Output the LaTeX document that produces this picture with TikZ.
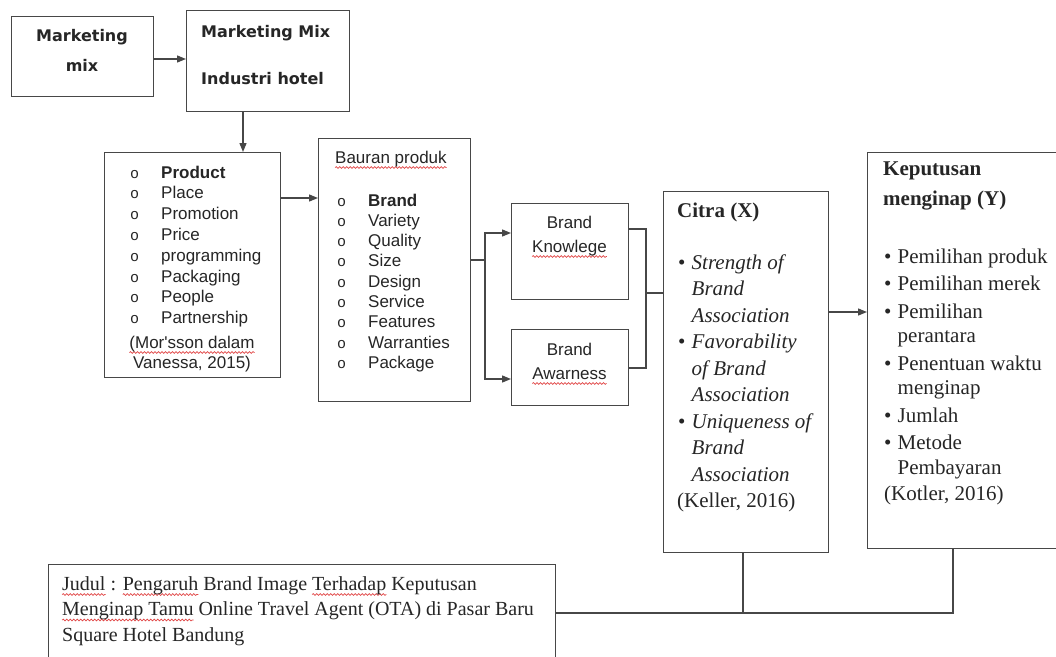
\documentclass[tikz,border=0pt]{standalone}
\usepackage{fontspec}
\setmainfont{Liberation Serif}
\newfontfamily\arial{Liberation Sans}
\newfontfamily\dvs{DejaVu Sans}
\newfontfamily\mono{Liberation Mono}
\usetikzlibrary{arrows.meta,decorations.pathmorphing}
\definecolor{squigred}{RGB}{225,70,70}
\newsavebox\sqbox
\newdimen\sqw
\newcommand\redwave[1]{\sbox\sqbox{#1}\sqw=\wd\sqbox\tikz[baseline=0pt,overlay]\draw[squigred,line width=0.7pt,decorate,decoration={snake,amplitude=0.9pt,segment length=3.5pt}] (0pt,-4.5pt) -- (\sqw,-4.5pt);\usebox\sqbox}
\newcommand\obul{\makebox[31pt][l]{{\mono\fontsize{15}{15}\selectfont o}}}
\newcommand\kbul{\makebox[13.5pt][l]{•}}
\tikzset{
  frame/.style={draw=black!72, line width=1.3pt, inner sep=0pt, anchor=north west},
  txt/.style={anchor=base west, inner sep=0pt, text width=#1, align=flush left, text=black!85},
  ctxt/.style={anchor=base, inner sep=0pt, text width=#1, align=flush center, text=black!85},
  conn/.style={draw=black!72, line width=1.3pt},
  arr/.style={conn, -{Triangle[length=9pt,width=7pt]}},
  sansbig/.style={font=\dvs\bfseries\fontsize{16}{30}\selectfont},
  sanslist/.style={font=\arial\fontsize{17}{20.8}\selectfont},
  serif/.style={font=\fontsize{21}{26.5}\selectfont},
}
\begin{document}
\begin{tikzpicture}[x=1pt,y=-1pt]
\useasboundingbox (0,0) rectangle (1056,656);
\fill[white] (0,0) rectangle (1056,656);
\clip (0,0) rectangle (1056,656);

% frames
\node[frame, minimum width=142pt, minimum height=80pt]  (mm)  at (11,16) {};
\node[frame, minimum width=163pt, minimum height=101pt] (mmh) at (186,10) {};
\node[frame, minimum width=176pt, minimum height=225pt] (mp)  at (104,152) {};
\node[frame, minimum width=152pt, minimum height=263pt] (bp)  at (318,138) {};
\node[frame, minimum width=117pt, minimum height=96pt]  (bk)  at (511,203) {};
\node[frame, minimum width=117pt, minimum height=76pt]  (ba)  at (511,329) {};
\node[frame, minimum width=165pt, minimum height=361pt] (ci)  at (663,191) {};
\node[frame, minimum width=200pt, minimum height=396pt] (kp)  at (867,152) {};
\node[frame, minimum width=507pt, minimum height=110pt] (jd)  at (48,564) {};

% texts
\node[ctxt=135pt, sansbig] (mmt) at (82,41) {Marketing\\mix};
\node[txt=150pt, font=\dvs\bfseries\fontsize{16}{47}\selectfont] (mmht) at (201,37) {Marketing Mix\\Industri hotel};

\node[txt=150pt, sanslist] (mpt) at (130,178)
  {\obul\textbf{Product}\\\obul Place\\\obul Promotion\\\obul Price\\\obul programming\\\obul Packaging\\\obul People\\\obul Partnership};
\node[ctxt=170pt, sanslist] (mpc) at (192,348) {\redwave{(Mor'sson dalam}\\Vanessa, 2015)};

\node[txt=140pt, sanslist] (bpt0) at (335,163) {\redwave{Bauran produk}};
\node[txt=130pt, font=\arial\fontsize{17}{20.3}\selectfont] (bpt) at (337,206)
  {\obul\textbf{Brand}\\\obul Variety\\\obul Quality\\\obul Size\\\obul Design\\\obul Service\\\obul Features\\\obul Warranties\\\obul Package};

\node[ctxt=110pt, font=\arial\fontsize{17}{24}\selectfont] (bkt) at (569.5,228) {Brand\\\redwave{Knowlege}};
\node[ctxt=110pt, font=\arial\fontsize{17}{24}\selectfont] (bat) at (569.5,355) {Brand\\\redwave{Awarness}};

\node[txt=150pt, serif] (cih) at (677,217) {\textbf{Citra (X)}};
\node[txt=150pt, serif] (cit) at (678,269)
  {\kbul\textit{Strength of}\\\hspace*{13.5pt}\textit{Brand}\\\hspace*{13.5pt}\textit{Association}\\
   \kbul\textit{Favorability}\\\hspace*{13.5pt}\textit{of Brand}\\\hspace*{13.5pt}\textit{Association}\\
   \kbul\textit{Uniqueness of}\\\hspace*{13.5pt}\textit{Brand}\\\hspace*{13.5pt}\textit{Association}\\
   \hspace*{-1pt}(Keller, 2016)};

\node[txt=170pt, font=\bfseries\fontsize{21}{30}\selectfont] (kph) at (883,175) {Keputusan\\menginap (Y)};
\node[txt=175pt, font=\fontsize{21}{24.5}\selectfont] (kpt) at (884,263)
  {\kbul Pemilihan produk\\[3pt]\kbul Pemilihan merek\\[3pt]\kbul Pemilihan\\\hspace*{13.5pt}perantara\\[3pt]
   \kbul Penentuan waktu\\\hspace*{13.5pt}menginap\\[3pt]\kbul Jumlah\\[3pt]\kbul Metode\\\hspace*{13.5pt}Pembayaran\\[1.5pt]
   (Kotler, 2016)};

\node[txt=490pt, font=\fontsize{20}{25.5}\selectfont] (jdt) at (62,590)
  {\redwave{Judul} : \redwave{Pengaruh} Brand Image \redwave{Terhadap} Keputusan\\\redwave{Menginap Tamu} Online Travel Agent (OTA) di Pasar Baru\\Square Hotel Bandung};

% connectors
\draw[arr] (mm.east |- 0,59) -- (mmh.west |- 0,59);
\draw[arr] (243,0 |- mmh.south) -- (243,0 |- mp.north);
\draw[arr] (mp.east |- 0,198) -- (bp.west |- 0,198);

\coordinate (s1) at (485,260);
\draw[conn] (bp.east |- s1) -- (s1);
\draw[arr] (s1) |- (bk.west |- 0,233);
\draw[arr] (s1) |- (ba.west |- 0,379);

\coordinate (s2) at (646,293);
\draw[conn] (bk.east |- 0,229) -| (s2);
\draw[conn] (ba.east |- 0,368) -| (s2);
\draw[conn] (s2) -- (ci.west |- s2);

\draw[arr] (ci.east |- 0,312) -- (kp.west |- 0,312);

\coordinate (j1) at (743,613);
\coordinate (j2) at (953,613);
\draw[conn] (jd.east |- j1) -- (j2) -- (j2 |- kp.south);
\draw[conn] (j1) -- (j1 |- ci.south);
\end{tikzpicture}
\end{document}
